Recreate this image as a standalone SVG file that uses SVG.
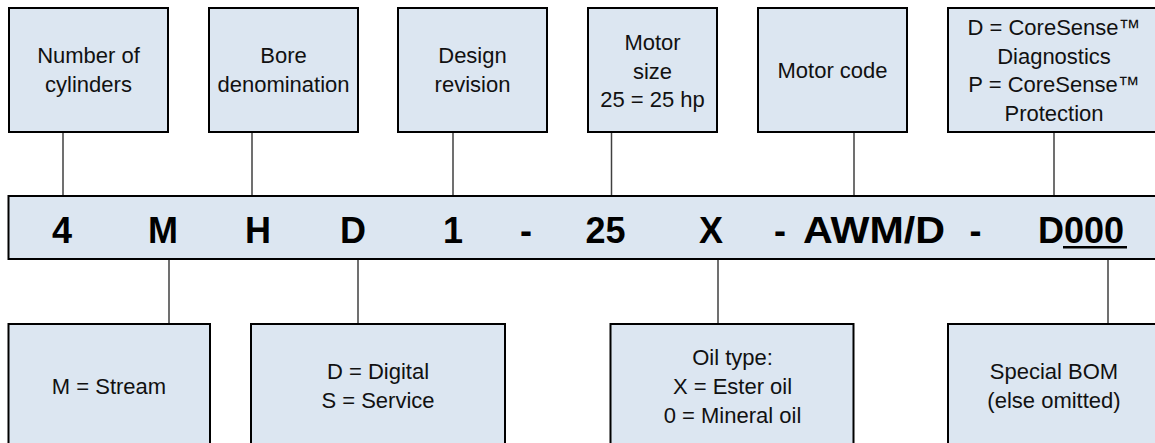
<svg xmlns="http://www.w3.org/2000/svg" width="1155" height="443" viewBox="0 0 1155 443">
<style>
.box{fill:#dce6f1;stroke:#000;stroke-width:2}
.lbl{font-family:"Liberation Sans",Arial,sans-serif;font-size:22px;fill:#111;text-anchor:middle}
.code{font-family:"Liberation Sans",Arial,sans-serif;font-size:36px;font-weight:bold;fill:#000;text-anchor:middle}
.conn{stroke:#404040;stroke-width:1.5;fill:none}
</style>
<rect width="1155" height="443" fill="#fff"/>
<g id="connectors">
<line class="conn" x1="63" y1="132" x2="63" y2="196"/>
<line class="conn" x1="252" y1="132" x2="252" y2="196"/>
<line class="conn" x1="453" y1="132" x2="453" y2="196"/>
<line class="conn" x1="611.5" y1="132" x2="611.5" y2="196"/>
<line class="conn" x1="854" y1="132" x2="854" y2="196"/>
<line class="conn" x1="1054" y1="132" x2="1054" y2="196"/>
<line class="conn" x1="169" y1="259" x2="169" y2="324"/>
<line class="conn" x1="358" y1="259" x2="358" y2="324"/>
<line class="conn" x1="718" y1="259" x2="718" y2="324"/>
<line class="conn" x1="1108" y1="259" x2="1108" y2="324"/>
</g>
<g id="band">
<rect class="box" x="8.5" y="196" width="1160" height="63"/>
<text class="code" x="62" y="243">4</text>
<text class="code" x="163" y="243">M</text>
<text class="code" x="258" y="243">H</text>
<text class="code" x="353" y="243">D</text>
<text class="code" x="453" y="243">1</text>
<text class="code" x="526" y="243">-</text>
<text class="code" x="605.5" y="243">25</text>
<text class="code" x="711" y="243">X</text>
<text class="code" x="780" y="243">-</text>
<text class="code" x="874" y="243" textLength="142" lengthAdjust="spacingAndGlyphs">AWM/D</text>
<text class="code" x="975.5" y="243">-</text>
<text class="code" x="1038" y="243" style="text-anchor:start">D000</text>
<line x1="1063" y1="247.3" x2="1127" y2="247.3" stroke="#000" stroke-width="2.6"/>
</g>
<g id="n-cylinders">
<rect class="box" x="9" y="8" width="159" height="124"/>
<text class="lbl" x="88.5" y="63.3">Number of</text>
<text class="lbl" x="88.5" y="92.3">cylinders</text>
</g>
<g id="n-bore">
<rect class="box" x="209" y="8" width="149" height="124"/>
<text class="lbl" x="283.5" y="63.3">Bore</text>
<text class="lbl" x="283.5" y="92.3">denomination</text>
</g>
<g id="n-design">
<rect class="box" x="398" y="8" width="149" height="124"/>
<text class="lbl" x="472.5" y="63.3">Design</text>
<text class="lbl" x="472.5" y="92.3">revision</text>
</g>
<g id="n-motorsize">
<rect class="box" x="588" y="8" width="129" height="124"/>
<text class="lbl" x="652.5" y="50">Motor</text>
<text class="lbl" x="652.5" y="78.7">size</text>
<text class="lbl" x="652.5" y="107.3">25 = 25 hp</text>
</g>
<g id="n-motorcode">
<rect class="box" x="758" y="8" width="149" height="124"/>
<text class="lbl" x="832.5" y="78">Motor code</text>
</g>
<g id="n-coresense">
<rect class="box" x="948" y="8" width="212" height="124"/>
<text class="lbl" x="1054" y="35">D = CoreSense™</text>
<text class="lbl" x="1054" y="63.5">Diagnostics</text>
<text class="lbl" x="1054" y="92.3">P = CoreSense™</text>
<text class="lbl" x="1054" y="121">Protection</text>
</g>
<g id="n-stream">
<rect class="box" x="8.5" y="324" width="201.5" height="140"/>
<text class="lbl" x="109" y="394">M = Stream</text>
</g>
<g id="n-digital">
<rect class="box" x="251" y="324" width="254" height="140"/>
<text class="lbl" x="378" y="379">D = Digital</text>
<text class="lbl" x="378" y="408">S = Service</text>
</g>
<g id="n-oil">
<rect class="box" x="610.5" y="324" width="243" height="140"/>
<text class="lbl" x="732.5" y="365">Oil type:</text>
<text class="lbl" x="732.5" y="394">X = Ester oil</text>
<text class="lbl" x="732.5" y="423">0 = Mineral oil</text>
</g>
<g id="n-bom">
<rect class="box" x="948" y="324" width="212" height="140"/>
<text class="lbl" x="1054" y="379">Special BOM</text>
<text class="lbl" x="1054" y="408">(else omitted)</text>
</g>
</svg>
